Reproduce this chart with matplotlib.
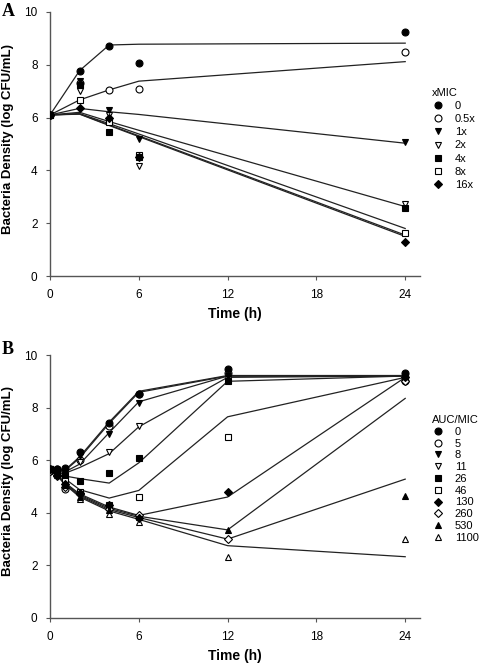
import numpy as np
import matplotlib
matplotlib.use("Agg")
import matplotlib.pyplot as plt
from matplotlib.lines import Line2D

plt.rcParams['font.family'] = ['Liberation Sans', 'DejaVu Sans']

# ---- Panel A: xMIC ----
a_labels = ['0', '0.5x', '1x', '2x', '4x', '8x', '16x']
a_time = [0, 2, 4, 6, 24]
a_obs = [
    [6.1, 7.78, 8.71, 8.08, 9.26],
    [6.1, 7.30, 7.05, 7.10, 8.48],
    [6.1, 7.40, 6.29, 5.20, 5.07],
    [6.1, 7.02, 6.10, 4.18, 2.72],
    [6.1, 7.25, 5.47, 4.52, 2.56],
    [6.1, 6.67, 5.84, 4.58, 1.62],
    [6.1, 6.35, 6.00, 4.50, 1.30],
]
a_fit = [
    [6.1, 7.78, 8.75, 8.78, 8.82],
    [6.1, 6.67, 7.05, 7.38, 8.12],
    [6.1, 6.35, 6.22, 6.12, 5.03],
    [6.1, 6.20, 5.85, 5.52, 2.63],
    [6.1, 6.15, 5.77, 5.38, 1.80],
    [6.1, 6.14, 5.72, 5.31, 1.55],
    [6.1, 6.13, 5.70, 5.28, 1.50],
]

# ---- Panel B: AUC/MIC ----
b_labels = ['0', '5', '8', '11', '26', '46', '130', '260', '530', '1100']
b_time = [0, 0.5, 1, 2, 4, 6, 12, 24]
b_obs = [
    [5.68, 5.68, 5.72, 6.32, 7.42, 8.50, 9.45, 9.32],
    [5.60, 5.65, 4.90, 6.02, 7.30, 8.52, 9.30, 9.00],
    [5.65, 5.62, 5.55, 6.15, 7.00, 8.17, 9.20, 9.22],
    [5.65, 5.60, 5.50, 5.95, 6.30, 7.30, 9.10, 9.20],
    [5.65, 5.62, 5.45, 5.22, 5.50, 6.10, 9.02, 9.22],
    [5.65, 5.60, 5.30, 4.80, 4.30, 4.60, 6.90, 9.20],
    [5.65, 5.45, 5.10, 4.75, 4.30, 3.80, 4.80, 9.15],
    [5.60, 5.40, 5.00, 4.70, 4.15, 3.92, 3.00, 9.00],
    [5.65, 5.50, 5.05, 4.60, 4.10, 3.85, 3.35, 4.62],
    [5.65, 5.45, 5.10, 4.52, 3.95, 3.65, 2.32, 3.02],
]
b_fit = [
    [5.65, 5.65, 5.62, 6.13, 7.45, 8.62, 9.22, 9.22],
    [5.65, 5.65, 5.60, 6.08, 7.40, 8.58, 9.20, 9.20],
    [5.65, 5.63, 5.55, 5.85, 7.05, 8.22, 9.20, 9.20],
    [5.65, 5.62, 5.50, 5.72, 6.25, 7.27, 9.15, 9.20],
    [5.65, 5.60, 5.40, 5.30, 5.13, 5.90, 9.00, 9.20],
    [5.65, 5.50, 5.30, 4.88, 4.56, 4.85, 7.65, 9.15],
    [5.65, 5.45, 5.15, 4.72, 4.22, 3.90, 4.60, 9.15],
    [5.65, 5.43, 5.12, 4.68, 4.17, 3.87, 3.35, 8.35],
    [5.65, 5.42, 5.10, 4.64, 4.12, 3.82, 3.00, 5.28],
    [5.65, 5.40, 5.08, 4.60, 4.07, 3.75, 2.75, 2.33],
]

# marker style per series (marker, filled?)
styles = [('o', True), ('o', False), ('v', True), ('v', False), ('s', True),
          ('s', False), ('D', True), ('D', False), ('^', True), ('^', False)]


def marker_kw(i):
    m, filled = styles[i]
    ms = 4.2 if m == 'D' else 5
    return dict(marker=m, markersize=ms, markeredgecolor='black',
                markerfacecolor='black' if filled else 'white',
                markeredgewidth=0.8, linestyle='none')


def draw_panel(ax, t, obs, fit, labels, title, legend_xy, spacing, letter_y, letter):
    for f in fit:
        ax.plot(t, f, color='#222222', lw=0.9, zorder=2)
    # open markers first so filled ones sit on top in stacks
    order = [i for i in range(len(obs)) if not styles[i][1]] + \
            [i for i in range(len(obs)) if styles[i][1]]
    for i in order:
        ax.plot(t, obs[i], zorder=3, **marker_kw(i))

    ax.set_xlim(0, 25)
    ax.set_ylim(0, 10)
    ax.set_xticks([0, 6, 12, 18, 24])
    ax.set_yticks([0, 2, 4, 6, 8, 10])
    ax.spines['top'].set_visible(False)
    ax.spines['right'].set_visible(False)
    for s in ['left', 'bottom']:
        ax.spines[s].set_color('#555555')
        ax.spines[s].set_linewidth(1.0)
    ax.tick_params(direction='out', length=3, width=0.8, colors='#555555',
                   labelcolor='black', labelsize=8.5, pad=6)
    ax.set_xlabel('Time (h)', fontsize=10, fontweight='bold', labelpad=5)
    ax.set_ylabel('Bacteria Density (log CFU/mL)', fontsize=9.5,
                  fontweight='bold')
    ax.yaxis.set_label_coords(-36 / 370, 0.52)

    handles = [Line2D([], [], **marker_kw(i)) for i in range(len(labels))]
    leg = ax.legend(handles, labels, title=title, loc='upper left',
                    bbox_to_anchor=legend_xy, bbox_transform=fig.transFigure,
                    frameon=False, fontsize=8, title_fontsize=8,
                    handlelength=1.0, handletextpad=1.05, labelspacing=spacing,
                    borderpad=0, borderaxespad=0)
    leg._legend_box.align = 'left'

    fig.text(0.004, letter_y, letter, fontsize=13,
             fontweight='bold', family='Liberation Serif', va='top', ha='left')


fig = plt.figure(figsize=(4.8, 6.64), dpi=100)
ax_a = fig.add_axes([50 / 480, 1 - 276 / 664, 370 / 480, 264 / 664])
ax_b = fig.add_axes([50 / 480, 1 - 618 / 664, 370 / 480, 263 / 664])

draw_panel(ax_a, a_time, a_obs, a_fit, a_labels, 'xMIC',
           (432 / 480, 1 - 88 / 664), 0.28, 1 - 3 / 664, 'A')
draw_panel(ax_b, b_time, b_obs, b_fit, b_labels, 'AUC/MIC',
           (432 / 480, 1 - 415 / 664), 0.16, 1 - 341 / 664, 'B')

fig.savefig('out.png', dpi=100)
